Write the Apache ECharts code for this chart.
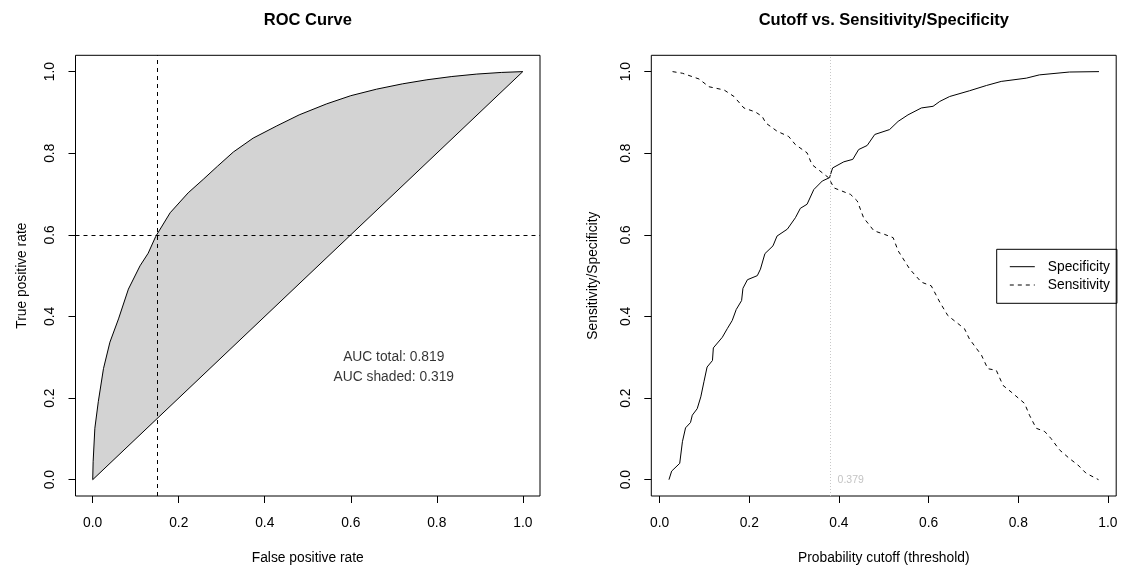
<!DOCTYPE html>
<html><head><meta charset="utf-8">
<script src="https://cdn.jsdelivr.net/npm/echarts@6/dist/echarts.min.js"></script>
<style>html,body{margin:0;padding:0;background:#fff}#c{width:1123px;height:570px}</style>
</head><body><div id="c"></div><script>
// ---- data ----
const rocFpr = [0, 0.001, 0.005, 0.013, 0.025, 0.040, 0.060, 0.083, 0.110, 0.129, 0.1465, 0.180, 0.222, 0.257, 0.290, 0.327, 0.373, 0.428, 0.480, 0.544, 0.600, 0.660, 0.720, 0.777, 0.835, 0.893, 0.950, 1.0];
const rocTpr = [0, 0.044, 0.126, 0.191, 0.272, 0.337, 0.394, 0.467, 0.524, 0.555, 0.596, 0.654, 0.703, 0.736, 0.768, 0.803, 0.837, 0.867, 0.894, 0.921, 0.941, 0.957, 0.970, 0.980, 0.988, 0.994, 0.998, 1.0];
const diagonal = [[0, 0], [1, 1]];
const optimalPoint = [0.1465, 0.596];
const aucLabels = ['AUC total: 0.819', 'AUC shaded: 0.319'];
const aucLabelAt = [[0.7, 0.30], [0.7, 0.25]];

const specCutoff = [0.021,0.027,0.045,0.051,0.058,0.069,0.073,0.084,0.092,0.099,0.106,0.118,0.120,0.140,0.151,0.162,0.171,0.183,0.186,0.196,0.218,0.225,0.235,0.253,0.262,0.285,0.303,0.314,0.329,0.344,0.363,0.379,0.386,0.411,0.431,0.444,0.463,0.480,0.513,0.532,0.554,0.584,0.610,0.625,0.647,0.691,0.729,0.762,0.818,0.847,0.914,0.980];
const specValue  = [0,0.021,0.040,0.093,0.127,0.140,0.158,0.174,0.203,0.240,0.276,0.292,0.323,0.349,0.370,0.390,0.417,0.439,0.469,0.490,0.500,0.516,0.554,0.573,0.597,0.614,0.642,0.665,0.675,0.711,0.732,0.740,0.764,0.779,0.785,0.809,0.819,0.846,0.858,0.878,0.894,0.911,0.915,0.927,0.939,0.953,0.966,0.976,0.984,0.992,0.999,1.0];
const sensCutoff = [0.029,0.051,0.088,0.110,0.144,0.166,0.188,0.214,0.229,0.237,0.262,0.288,0.303,0.329,0.340,0.363,0.377,0.389,0.426,0.441,0.455,0.478,0.502,0.521,0.532,0.558,0.584,0.606,0.625,0.643,0.680,0.691,0.718,0.732,0.751,0.766,0.784,0.814,0.825,0.840,0.859,0.873,0.892,0.914,0.933,0.951,0.979];
const sensValue  = [1.0,0.996,0.982,0.963,0.955,0.939,0.911,0.901,0.890,0.874,0.854,0.841,0.821,0.801,0.772,0.752,0.740,0.715,0.699,0.683,0.642,0.610,0.601,0.593,0.561,0.516,0.484,0.475,0.435,0.402,0.370,0.345,0.305,0.272,0.268,0.231,0.215,0.187,0.158,0.126,0.118,0.101,0.073,0.052,0.036,0.016,0.0];
const optimalCutoff = 0.379;
const tickValues = [0, 0.2, 0.4, 0.6, 0.8, 1.0];

// ---- chart ----
const FF = '"Liberation Sans", Arial, Helvetica, sans-serif';
const FS = 13.8;
const zip = (a, b) => a.map((v, i) => [v, b[i]]);
const rocData = zip(rocFpr, rocTpr);

function makeAxis(gridIndex, min, max, name, nameGap, isY) {
  return {
    type: 'value', gridIndex, min, max, name, nameLocation: 'middle', nameGap,
    nameTextStyle: { fontSize: FS, color: '#000', fontFamily: FF },
    axisLine: { show: false, onZero: false },
    splitLine: { show: false },
    axisTick: { show: true, inside: false, length: 7, customValues: tickValues, lineStyle: { color: '#000', width: 1 } },
    axisLabel: { customValues: tickValues, formatter: v => v.toFixed(1), fontSize: FS, color: '#000', fontFamily: FF,
      margin: isY ? 18 : 20, rotate: isY ? 90 : 0 }
  };
}

const chart = echarts.init(document.getElementById('c'), null, { renderer: 'canvas' });
chart.setOption({
  animation: false,
  backgroundColor: '#fff',
  graphic: [
    { type: 'text', x: 307.8, y: 20.5, style: { text: 'ROC Curve', font: 'bold 16.5px ' + FF, fill: '#000', textAlign: 'center', textVerticalAlign: 'middle' } },
    { type: 'text', x: 883.8, y: 20.5, style: { text: 'Cutoff vs. Sensitivity/Specificity', font: 'bold 16.5px ' + FF, fill: '#000', textAlign: 'center', textVerticalAlign: 'middle' } }
  ],
  grid: [
    { left: 75.5, top: 55.3, width: 464.5, height: 442.6, show: true, borderColor: '#000', borderWidth: 1, backgroundColor: 'transparent' },
    { left: 651.3, top: 55.3, width: 464.9, height: 442.6, show: true, borderColor: '#000', borderWidth: 1, backgroundColor: 'transparent' }
  ],
  xAxis: [
    makeAxis(0, -0.04, 1.04, 'False positive rate', 55, false),
    makeAxis(1, -0.0184, 1.0184, 'Probability cutoff (threshold)', 55, false)
  ],
  yAxis: [
    makeAxis(0, -0.04, 1.04, 'True positive rate', 46, true),
    makeAxis(1, -0.04, 1.04, 'Sensitivity/Specificity', 51, true)
  ],
  legend: {
    data: ['Specificity', 'Sensitivity'], orient: 'vertical', left: 996.7, top: 249.3,
    padding: [10.4, 7, 11.3, 12.6], itemWidth: 25, itemHeight: 14, itemGap: 4.3,
    borderColor: '#000', borderWidth: 1, borderRadius: 0, selectedMode: false,
    itemStyle: { opacity: 0 },
    lineStyle: { width: 1 },
    textStyle: { fontSize: FS, color: '#000', fontFamily: FF, padding: [0, 0, 0, 8] }
  },
  series: [
    {
      type: 'custom', xAxisIndex: 0, yAxisIndex: 0, silent: true, z: 1,
      data: rocData,
      renderItem: (params, api) => {
        if (params.dataIndex !== 0) return null;
        const poly = rocData.concat(diagonal.slice().reverse()).map(p => api.coord(p));
        return { type: 'polygon', shape: { points: poly }, style: { fill: '#d3d3d3', stroke: null } };
      }
    },
    {
      type: 'line', xAxisIndex: 0, yAxisIndex: 0, data: rocData, symbol: 'none', z: 3,
      lineStyle: { color: '#000', width: 1 }
    },
    {
      type: 'line', xAxisIndex: 0, yAxisIndex: 0, data: diagonal, symbol: 'none', z: 3,
      lineStyle: { color: '#000', width: 1 },
      markLine: { silent: true, symbol: 'none', label: { show: false },
        lineStyle: { type: [4, 4], color: '#000', width: 1 },
        data: [{ xAxis: optimalPoint[0] }, { yAxis: optimalPoint[1] }] }
    },
    {
      type: 'scatter', xAxisIndex: 0, yAxisIndex: 0, data: aucLabelAt, symbolSize: 0.1,
      itemStyle: { color: 'rgba(0,0,0,0)' }, silent: true,
      label: { show: true, position: 'inside', formatter: p => aucLabels[p.dataIndex], fontSize: FS, color: '#000', fontFamily: FF }
    },
    {
      name: 'Specificity', type: 'line', xAxisIndex: 1, yAxisIndex: 1, data: zip(specCutoff, specValue), symbol: 'none', z: 3,
      lineStyle: { color: '#000', width: 1 }, itemStyle: { color: '#000' },
      markLine: { silent: true, symbol: 'none', label: { show: false },
        lineStyle: { type: [1, 2], color: '#c8c8c8', width: 1 },
        data: [{ xAxis: optimalCutoff }] }
    },
    {
      name: 'Sensitivity', type: 'line', xAxisIndex: 1, yAxisIndex: 1, data: zip(sensCutoff, sensValue), symbol: 'none', z: 3,
      lineStyle: { color: '#000', width: 1, type: [4, 4] }, itemStyle: { color: '#000' }
    },
    {
      type: 'scatter', xAxisIndex: 1, yAxisIndex: 1, data: [[optimalCutoff, 0]], symbolSize: 0.1,
      itemStyle: { color: 'rgba(0,0,0,0)' }, silent: true,
      label: { show: true, position: 'right', distance: 8, formatter: () => optimalCutoff.toFixed(3), fontSize: 10.5, color: '#b4b4b4', fontFamily: FF }
    }
  ]
});
</script></body></html>
